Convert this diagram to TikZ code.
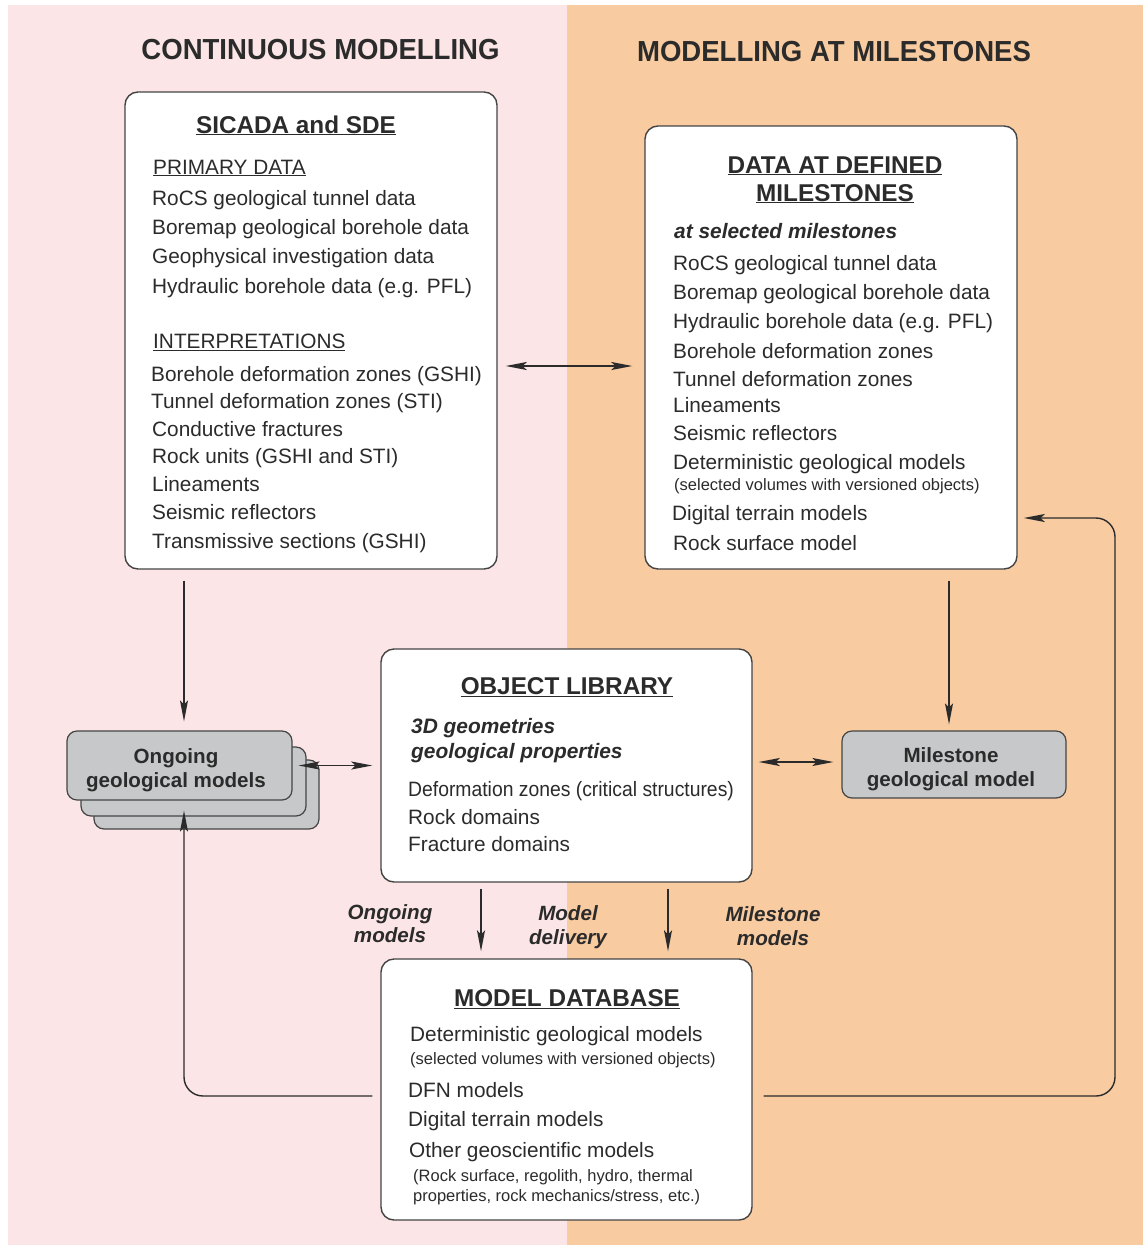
\documentclass[tikz,border=0pt]{standalone}
\usepackage{fontspec}
\setmainfont{Liberation Sans}
\usetikzlibrary{arrows.meta,calc}
\definecolor{pinkbg}{HTML}{FBE5E6}
\definecolor{orangebg}{HTML}{F8CBA1}
\definecolor{ink}{HTML}{2B2B2B}
\definecolor{edge}{HTML}{444444}
\definecolor{greyfill}{HTML}{C7C8C9}

\begin{document}
\begin{tikzpicture}[x=1pt,y=-1pt,
  panel/.style={draw=edge, line width=1.4pt, fill=white, rounded corners=13pt, inner sep=0pt},
  greybox/.style={draw=edge, line width=1.2pt, fill=greyfill, rounded corners=10pt, inner sep=0pt,
    minimum width=225pt, minimum height=69pt},
  txt/.style={anchor=base west, inner sep=0pt, text=ink, font=\fontsize{20.8}{24}\selectfont},
  smalltxt/.style={anchor=base west, inner sep=0pt, text=ink, font=\fontsize{16.5}{20}\selectfont},
  bitxt/.style={anchor=base west, inner sep=0pt, text=ink, font=\fontsize{20.9}{24}\selectfont\bfseries\itshape},
  head/.style={anchor=base, inner sep=0pt, text=ink, font=\fontsize{24.3}{28}\selectfont\bfseries},
  title/.style={anchor=base, inner sep=0pt, text=ink, xscale=0.95, font=\fontsize{29}{32}\selectfont\bfseries},
  greytxt/.style={anchor=base, inner sep=0pt, text=ink, font=\fontsize{20.6}{24}\selectfont\bfseries},
  flowlabel/.style={anchor=base, inner sep=0pt, text=ink, font=\fontsize{20.6}{24}\selectfont\bfseries\itshape},
  tip/.tip={Stealth[length=21pt,width=8pt,inset=4pt]},
  arr/.style={draw=ink, line width=1.4pt, -tip},
  darr/.style={draw=ink, line width=1.4pt, tip-tip},
  loop/.style={draw=ink, line width=1.4pt, -tip, rounded corners=19pt}
]
\useasboundingbox (0,0) rectangle (1143,1245);
\fill[white] (0,0) rectangle (1143,1245);
\fill[pinkbg] (8,5) rectangle (567,1245);
\fill[orangebg] (567,5) rectangle (1143,1245);

% column titles
\node[title] (tleft) at (320.5,59) {CONTINUOUS MODELLING};
\node[title] (tright) at (834,61) {MODELLING AT MILESTONES};

% main panels
\node[panel, minimum width=372pt, minimum height=477pt] (sicada) at (311,330.5) {};
\node[panel, minimum width=372pt, minimum height=443pt] (data) at (831,347.5) {};
\node[panel, minimum width=371pt, minimum height=233pt] (obj) at (566.5,765.5) {};
\node[panel, minimum width=371pt, minimum height=261pt] (db) at (566.5,1089.5) {};

% stacked ongoing models and the milestone model
\node[greybox] (ong3) at (206.5,794.5) {};
\node[greybox] (ong2) at (193.5,781.5) {};
\node[greybox] (ong) at (179.5,765.5) {};
\node[greybox, minimum width=224pt, minimum height=67pt] (mile) at (954,764.5) {};
\node[greytxt] (ong-a) at (176,763.5) {Ongoing};
\node[greytxt] (ong-b) at (176,787.5) {geological models};
\node[greytxt] (mile-a) at (951,762.5) {Milestone};
\node[greytxt] (mile-b) at (951,786.5) {geological model};

% SICADA and SDE
\node[head] (s0) at (296,133) {\underline{SICADA and SDE}};
\node[txt] (s1) at (153,174) {\underline{PRIMARY DATA}};
\node[txt] (s2) at (152,205.5) {RoCS geological tunnel data};
\node[txt] (s3) at (152,234.5) {Boremap geological borehole data};
\node[txt] (s4) at (152,263.5) {Geophysical investigation data};
\node[txt] (s5) at (152,293.5) {Hydraulic borehole data (e.g. PFL)};
\node[txt] (s6) at (153,348.5) {\underline{INTERPRETATIONS}};
\node[txt] (s7) at (151,381.5) {Borehole deformation zones (GSHI)};
\node[txt] (s8) at (151,408.5) {Tunnel deformation zones (STI)};
\node[txt] (s9) at (152,436.5) {Conductive fractures};
\node[txt] (s10) at (152,463.5) {Rock units (GSHI and STI)};
\node[txt] (s11) at (152,491.5) {Lineaments};
\node[txt] (s12) at (152,519.5) {Seismic reflectors};
\node[txt] (s13) at (152,548.5) {Transmissive sections (GSHI)};

% data at defined milestones
\node[head] (d0) at (835,173) {\underline{DATA AT DEFINED}};
\node[head] (d0b) at (835,201) {\underline{MILESTONES}};
\node[bitxt] (d1) at (674,238) {at selected milestones};
\node[txt] (d2) at (673,270.5) {RoCS geological tunnel data};
\node[txt] (d3) at (673,299.5) {Boremap geological borehole data};
\node[txt] (d4) at (673,328.5) {Hydraulic borehole data (e.g. PFL)};
\node[txt] (d5) at (673,358.5) {Borehole deformation zones};
\node[txt] (d6) at (673,386.5) {Tunnel deformation zones};
\node[txt] (d7) at (673,412.5) {Lineaments};
\node[txt] (d8) at (673,440.5) {Seismic reflectors};
\node[txt] (d9) at (673,469.5) {Deterministic geological models};
\node[smalltxt] (d10) at (674,490) {(selected volumes with versioned objects)};
\node[txt] (d11) at (672,520.5) {Digital terrain models};
\node[txt] (d12) at (673,550.5) {Rock surface model};

% object library
\node[head] (o0) at (567,694.5) {\underline{OBJECT LIBRARY}};
\node[bitxt] (o1) at (411,733) {3D geometries};
\node[bitxt] (o2) at (411,758) {geological properties};
\node[txt, xscale=0.93] (o3) at (408,796.5) {Deformation zones (critical structures)};
\node[txt] (o4) at (408,824.5) {Rock domains};
\node[txt] (o5) at (408,851.5) {Fracture domains};

% model database
\node[head] (m0) at (567,1006.5) {\underline{MODEL DATABASE}};
\node[txt] (m1) at (410,1041.5) {Deterministic geological models};
\node[smalltxt] (m2) at (410,1064) {(selected volumes with versioned objects)};
\node[txt] (m3) at (408,1097.5) {DFN models};
\node[txt] (m4) at (408,1126.5) {Digital terrain models};
\node[txt] (m5) at (409,1157.5) {Other geoscientific models};
\node[smalltxt] (m6) at (413,1181) {(Rock surface, regolith, hydro, thermal};
\node[smalltxt] (m7) at (413,1201) {properties, rock mechanics/stress, etc.)};

% flow labels
\node[flowlabel] (l1a) at (390,919.5) {Ongoing};
\node[flowlabel] (l1b) at (390,942.5) {models};
\node[flowlabel] (l2a) at (568,920.5) {Model};
\node[flowlabel] (l2b) at (568,944.5) {delivery};
\node[flowlabel] (l3a) at (773,921.5) {Milestone};
\node[flowlabel] (l3b) at (773,945.5) {models};

% connector guides
\coordinate (xl) at (184,0);
\coordinate (xm) at (949,0);
\coordinate (xa) at (481,0);
\coordinate (xb) at (668,0);
\coordinate (xr) at (1115,0);
\coordinate (yh) at (0,366);
\coordinate (yb) at (0,1096);
\coordinate (yd) at (0,518);

% connectors
\draw[arr] ($(sicada.south -| xl)+(0,11)$) -- ($(ong.north -| xl)+(0,-9)$);
\draw[arr] ($(data.south -| xm)+(0,11)$) -- ($(mile.north -| xm)+(0,-6)$);
\draw[darr] ($(sicada.east |- yh)+(8,0)$) -- ($(data.west |- yh)+(-12,0)$);
\draw[darr] ($(ong.east)+(6,0)$) -- ($(obj.west)+(-8,0)$);
\draw[darr] ($(obj.east |- 0,762)+(6,0)$) -- ($(mile.west |- 0,762)+(-8,0)$);
\draw[arr] ($(obj.south -| xa)+(0,6)$) -- ($(db.north -| xa)+(0,-7)$);
\draw[arr] ($(obj.south -| xb)+(0,6)$) -- ($(db.north -| xb)+(0,-7)$);
\draw[loop] ($(db.west |- yb)+(-8,0)$) -- (xl |- yb) -- ($(ong.south -| xl)+(0,10)$);
\draw[loop] ($(db.east |- yb)+(11,0)$) -- (xr |- yb) -- (xr |- yd) -- ($(data.east |- yd)+(6,0)$);
\end{tikzpicture}
\end{document}
